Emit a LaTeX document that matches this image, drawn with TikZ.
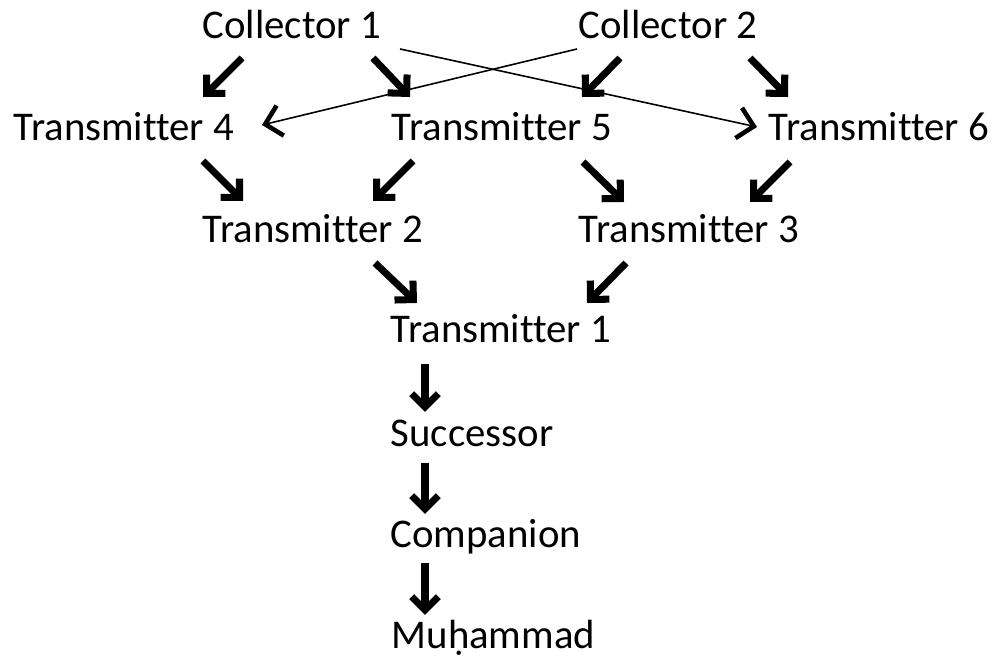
\documentclass[tikz,border=0pt]{standalone}
\usepackage{fontspec}
\setmainfont{Carlito}[Ligatures={NoCommon}]
\usetikzlibrary{arrows.meta}

\tikzset{
    person/.style={anchor=base west, inner sep=0pt, font=\fontsize{11.6}{14}\selectfont},
    fatarrow/.style={line width=2pt, line cap=butt,
        -{Straight Barb[length=3.8pt, width=7.6pt, line join=miter, line cap=butt]}},
    slimarrow/.style={line width=0.45pt,
        -{Straight Barb[length=4.4pt, width=8.8pt, line width=1.3pt, line join=miter]}}
}

\begin{document}
\begin{tikzpicture}[x=0.01cm, y=-0.01cm]
                                \useasboundingbox (0, 0) rectangle (1000, 659);
                                \node[person] (c1) at (202, 39) {Collector 1};
                                \node[person] (c2) at (578, 39) {Collector 2};
                                \node[person] (t4) at (13, 141) {Transmitter 4};
                                \node[person] (t5) at (391, 141) {Transmitter 5};
                                \node[person] (t6) at (768, 141) {Transmitter 6};
                                \node[person] (t2) at (202, 243) {Transmitter 2};
                                \node[person] (t3) at (578, 243) {Transmitter 3};
                                \node[person] (t1) at (390, 343) {Transmitter 1};
                                \node[person] (su) at (390, 447) {Successor};
                                \node[person] (co) at (390, 548) {Companion};
                                \node[person] (mu) at (391, 649) {Muḥammad};
                                \draw[fatarrow] ([shift={(40, 19)}]c1.base west) -- ([shift={(190, -44)}]t4.base west);
                                \draw[fatarrow] ([shift={(171, 19)}]c1.base west) -- ([shift={(19, -44)}]t5.base west);
                                \draw[fatarrow] ([shift={(42, 19)}]c2.base west) -- ([shift={(191, -44)}]t5.base west);
                                \draw[fatarrow] ([shift={(172, 19)}]c2.base west) -- ([shift={(20, -44)}]t6.base west);
                                \draw[slimarrow] ([shift={(198, 10)}]c1.base west) -- ([shift={(-11, -14)}]t6.base west);
                                \draw[slimarrow] ([shift={(-1, 10)}]c2.base west) -- ([shift={(249, -16)}]t4.base west);
                                \draw[fatarrow] ([shift={(190, 20)}]t4.base west) -- ([shift={(41, -42)}]t2.base west);
                                \draw[fatarrow] ([shift={(22, 20)}]t5.base west) -- ([shift={(171, -42)}]t2.base west);
                                \draw[fatarrow] ([shift={(192, 21)}]t5.base west) -- ([shift={(46, -41)}]t3.base west);
                                \draw[fatarrow] ([shift={(22, 21)}]t6.base west) -- ([shift={(172, -41)}]t3.base west);
                                \draw[fatarrow] ([shift={(173, 20)}]t2.base west) -- ([shift={(27, -40)}]t1.base west);
                                \draw[fatarrow] ([shift={(48, 20)}]t3.base west) -- ([shift={(197, -40)}]t1.base west);
                                \draw[fatarrow] ([shift={(35, 21)}]t1.base west) -- ([shift={(35, -35)}]su.base west);
                                \draw[fatarrow] ([shift={(35, 16)}]su.base west) -- ([shift={(35, -34)}]co.base west);
                                \draw[fatarrow] ([shift={(35, 15)}]co.base west) -- ([shift={(34, -34)}]mu.base west);
                            \end{tikzpicture}
\end{document}
